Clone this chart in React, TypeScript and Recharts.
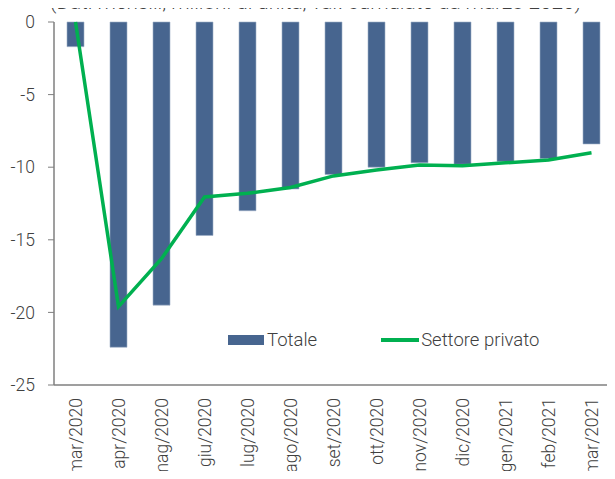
import React from "react";
import { ComposedChart, Bar, Line, XAxis, YAxis } from "recharts";

const categories = ["mar/2020", "apr/2020", "mag/2020", "giu/2020", "lug/2020", "ago/2020", "set/2020", "ott/2020", "nov/2020", "dic/2020", "gen/2021", "feb/2021", "mar/2021"];
const totale = [-1.7, -22.4, -19.5, -14.7, -13.0, -11.5, -10.5, -10.0, -9.7, -9.8, -9.6, -9.4, -8.4];
const privato = [0, -19.6, -16.3, -12.05, -11.8, -11.4, -10.6, -10.2, -9.85, -9.9, -9.7, -9.5, -9.0];
const yTicks = [0, -5, -10, -15, -20, -25];
const title = "(Dati mensili, milioni di unità, var. cumulate da marzo 2020)";

const data = categories.map((c, i) => ({ name: c, totale: totale[i], privato: privato[i] }));

const W = 615;
const H = 479;
const M = { top: 22, right: 2, left: 0, bottom: 0 };
const Y_W = 54;
const BAND = (W - M.left - M.right - Y_W) / categories.length;

const FONT = "Roboto, 'Noto Sans', sans-serif";
const TXT = "#404040";
const AX = "#7f7f7f";

const BottomTick = (props: any) => {
  const { x, y, payload } = props;
  return (
    <text
      x={x}
      y={y}
      transform={`rotate(-90, ${x}, ${y})`}
      textAnchor="end"
      dominantBaseline="central"
      fill={TXT}
      fontSize={17.5}
      fontWeight={300}
      fontFamily={FONT}
    >
      {payload.value}
    </text>
  );
};

const TopTick = (props: any) => {
  const { x, y } = props;
  const xx = x + BAND / 2;
  return <line x1={xx} x2={xx} y1={y} y2={y + 6} stroke={AX} strokeWidth={1} />;
};

const LegendBox = () => (
  <div
    style={{
      position: "absolute",
      left: 228,
      top: 329,
      display: "flex",
      alignItems: "center",
      fontFamily: FONT,
      fontSize: 18.5,
      fontWeight: 300,
      color: TXT,
      whiteSpace: "nowrap",
      zIndex: 2,
    }}
  >
    <span style={{ display: "inline-block", width: 36, height: 10, background: "#47658f" }} />
    <span style={{ marginLeft: 3 }}>Totale</span>
    <span style={{ display: "inline-block", width: 38, height: 3.5, background: "#00b050", marginLeft: 64 }} />
    <span style={{ marginLeft: 2 }}>Settore privato</span>
  </div>
);

export default function App() {
  return (
    <div style={{ position: "relative", width: W, height: H, margin: -8, overflow: "hidden", background: "#fff" }}>
      <ComposedChart width={W} height={H} data={data} margin={M}>
        <XAxis
          dataKey="name"
          xAxisId="bottom"
          orientation="bottom"
          height={94}
          interval={0}
          tickLine={false}
          tickSize={0}
          tickMargin={13}
          axisLine={{ stroke: AX, strokeWidth: 1.5 }}
          tick={<BottomTick />}
        />
        <XAxis
          dataKey="name"
          xAxisId="top"
          orientation="top"
          height={0}
          interval={0}
          tickLine={false}
          tickSize={0}
          tickMargin={0}
          axisLine={{ stroke: AX, strokeWidth: 1.5 }}
          tick={<TopTick />}
        />
        <YAxis
          domain={[-25, 0]}
          ticks={yTicks}
          width={Y_W}
          interval={0}
          tickSize={6}
          tickMargin={13}
          axisLine={{ stroke: AX, strokeWidth: 1.5 }}
          tickLine={{ stroke: AX }}
          tick={{ fill: TXT, fontSize: 17.5, fontWeight: 300, fontFamily: FONT }}
        />
        <Bar dataKey="totale" xAxisId="bottom" fill="#47658f" stroke="#9fb0c8" strokeWidth={0.6} barSize={17} isAnimationActive={false} />
        <Line dataKey="privato" xAxisId="bottom" stroke="#00b050" strokeWidth={3.5} dot={false} type="linear" isAnimationActive={false} />
      </ComposedChart>
      <div
        style={{
          position: "absolute",
          left: 0,
          width: W,
          top: -8,
          textAlign: "center",
          fontFamily: FONT,
          fontSize: 20.7,
          fontWeight: 300,
          color: TXT,
          whiteSpace: "nowrap",
          lineHeight: "20px",
          paddingLeft: 16,
          boxSizing: "border-box",
          zIndex: 2,
        }}
      >
        {title}
      </div>
      <LegendBox />
    </div>
  );
}
